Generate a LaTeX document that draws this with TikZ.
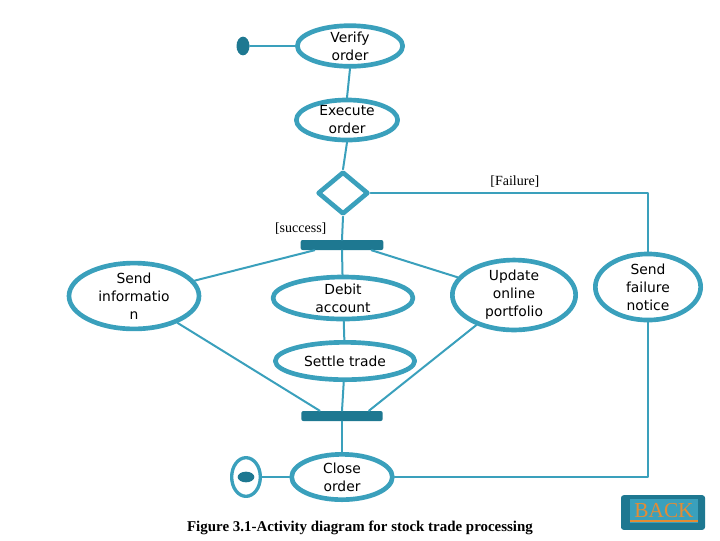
\documentclass[tikz,border=0pt]{standalone}
\usepackage{fontspec}
\setmainfont{DejaVu Sans}
\newfontfamily\guardfont{Liberation Serif}
\usetikzlibrary{shapes.geometric}
\definecolor{actblue}{RGB}{58,160,188}
\definecolor{bardark}{RGB}{30,120,145}
\definecolor{backorange}{RGB}{228,140,52}
\tikzset{
  activity/.style={ellipse,draw=actblue,line width=3.5pt,inner sep=0pt,align=center,
    font=\fontsize{10.4}{13.5}\selectfont},
  syncbar/.style={fill=bardark,rounded corners=1.5pt,inner sep=0pt,minimum height=7.5pt},
  flow/.style={draw=actblue,line width=1.5pt},
  guard/.style={font=\guardfont\fontsize{10.5}{12}\selectfont}
}
\begin{document}
\begin{tikzpicture}[x=0.75pt,y=-0.75pt,line join=round,line cap=round]
    \useasboundingbox (0,0) rectangle (720,540);
    % activities
    \node[ellipse,fill=bardark,inner sep=0pt,minimum width=9.75pt,minimum height=14pt] (start) at (243,46) {};
    \node[activity,minimum width=79pt,minimum height=29pt] (verify) at (350,46) {Verify\\order};
    \node[activity,minimum width=76pt,minimum height=29.5pt] (execute) at (347,120) {Execute\\order};
    \node[diamond,draw=actblue,line width=3.5pt,inner sep=0pt,minimum width=38pt,minimum height=32pt] (dec) at (343,193) {};
    \node[syncbar,minimum width=62pt] (fork) at (342,245) {};
    \node[activity,minimum width=97.5pt,minimum height=46pt] (info) at (134,296) {Send\\informatio\\n};
    \node[activity,minimum width=105pt,minimum height=31.5pt] (debit) at (343,298) {Debit\\account};
    \node[activity,minimum width=92.5pt,minimum height=49pt] (update) at (514,295) {Update\\online\\portfolio};
    \node[activity,minimum width=79pt,minimum height=44.5pt] (fail) at (648,287) {Send\\failure\\notice};
    \node[activity,minimum width=104.5pt,minimum height=28pt] (settle) at (345,361) {Settle trade};
    \node[syncbar,minimum width=61pt] (join) at (342,416) {};
    \node[activity,minimum width=75.5pt,minimum height=34pt] (close) at (342,477) {Close\\order};
    \node[ellipse,draw=actblue,line width=2.5pt,inner sep=0pt,minimum width=21.5pt,minimum height=29pt] (final) at (246,477) {};
    \node[ellipse,fill=bardark,inner sep=0pt,minimum width=12.5pt,minimum height=8pt] (finaldot) at (final) {};

    % flows
    \draw[flow] (start) -- (verify);
    \draw[flow] (verify.south) -- (execute.north);
    \draw[flow] (execute.south) -- (dec.north);
    \draw[flow] (dec.east) -| node[guard,above,pos=0.26]{[Failure]} (fail.north);
    \draw[flow] (dec.south) -- node[guard,left=8pt]{[success]} (fork.north);
    \draw[flow] ([xshift=10.5pt]fork.south west) -- (info);
    \draw[flow] (fork.south) -- (debit);
    \draw[flow] ([xshift=-9pt]fork.south east) -- (update);
    \draw[flow] (debit) -- (settle);
    \draw[flow] (info) -- ([xshift=14pt]join.north west);
    \draw[flow] (settle) -- (join.north);
    \draw[flow] (update) -- ([xshift=-10.5pt]join.north east);
    \draw[flow] (join) -- (close);
    \draw[flow] (final) -- (close);
    \draw[flow] (close.east) -| (fail.south);

    % caption and button
    \node[font=\guardfont\bfseries\fontsize{11.2}{13}\selectfont] (caption) at (360,528) {Figure 3.1-Activity diagram for stock trade processing};
    \node[fill=bardark,rounded corners=2pt,minimum width=63pt,minimum height=26pt] (back) at (663,512.5) {};
    \node[fill=actblue,inner sep=0pt,minimum width=51pt,minimum height=18pt,text=backorange,
      font=\guardfont\fontsize{16}{16}\selectfont] (backlabel) at (664,511) {BACK};
    \draw[backorange,line width=1.8pt,line cap=butt] ([yshift=-2.2pt]backlabel.base west) -- ([yshift=-2.2pt]backlabel.base east);
\end{tikzpicture}
\end{document}
